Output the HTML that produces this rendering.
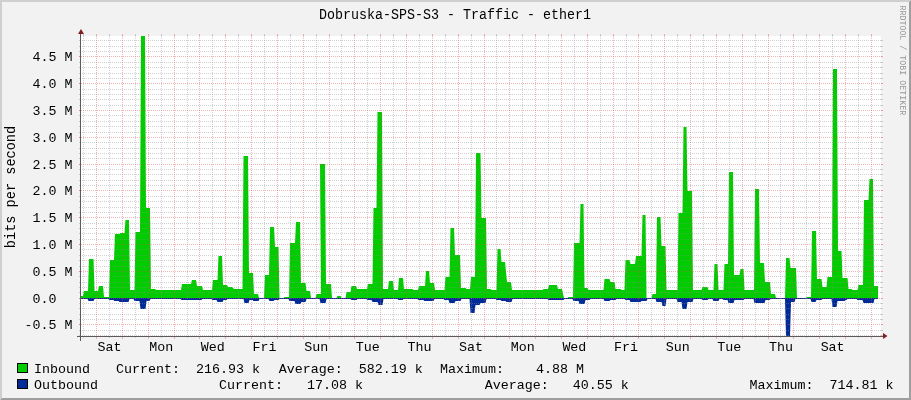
<!DOCTYPE html><html><head><meta charset="utf-8"><style>html,body{margin:0;padding:0;background:#f2f2f2;overflow:hidden}svg{display:block}text{font-family:"Liberation Mono",monospace;}</style></head><body>
<div style="will-change:transform;width:911px;height:400px">
<svg width="911" height="400" viewBox="0 0 911 400">
<rect x="0" y="0" width="911" height="400" fill="#f2f2f2"/>
<polygon points="0,0 911,0 909,2 2,2 2,398 0,400" fill="#cfcfcf"/>
<polygon points="911,0 911,400 0,400 2,398 909,398 909,2" fill="#9e9e9e"/>
<rect x="81" y="36" width="800" height="300" fill="#ffffff"/>
<polygon points="81.00,298.00 81.00,296.00 83.00,296.00 84.00,291.00 88.00,291.00 89.00,259.00 93.50,259.00 94.50,291.00 98.00,291.00 99.00,286.00 103.00,286.00 104.00,297.00 109.00,297.00 110.00,260.00 114.00,260.00 115.00,234.00 119.50,234.00 120.50,233.00 124.50,233.00 125.50,220.00 129.00,220.00 130.00,290.00 134.50,290.00 135.50,232.00 140.00,232.00 141.00,36.00 145.00,36.00 146.00,208.00 150.00,208.00 151.00,289.00 155.00,289.00 156.00,290.00 181.00,290.00 182.00,284.00 191.00,284.00 192.00,280.00 196.00,280.00 197.00,286.00 202.00,286.00 203.00,290.00 212.00,290.00 213.00,280.00 217.50,280.00 218.50,256.00 222.00,256.00 223.00,285.00 227.00,285.00 228.00,287.00 232.00,287.00 234.00,289.00 242.50,289.00 243.50,156.00 248.00,156.00 249.00,273.00 253.00,273.00 254.00,294.00 258.00,294.00 259.00,298.00 264.00,298.00 265.00,275.00 269.00,275.00 270.00,227.00 274.00,227.00 275.00,247.00 278.50,247.00 279.50,298.00 283.50,298.00 284.50,297.00 289.00,297.00 290.00,243.00 295.00,243.00 296.00,222.00 300.00,222.00 301.00,283.00 305.50,283.00 306.50,291.00 310.00,291.00 311.00,298.00 315.50,298.00 316.50,294.00 321.00,294.00 320.00,164.00 325.00,164.00 326.00,284.00 331.00,284.00 332.00,298.00 336.50,298.00 337.50,296.00 340.50,296.00 341.50,298.00 345.50,298.00 346.50,292.00 350.50,292.00 351.50,286.00 356.00,286.00 357.00,289.00 367.00,289.00 368.00,284.00 372.50,284.00 373.50,208.00 376.50,208.00 377.50,112.00 382.00,112.00 383.00,289.00 388.00,289.00 389.00,281.00 393.00,281.00 394.00,290.00 398.00,290.00 399.00,278.00 403.00,278.00 404.00,289.00 412.50,289.00 413.50,290.00 418.00,290.00 419.00,286.00 425.00,286.00 426.00,271.00 429.00,271.00 430.00,283.00 434.00,283.00 435.00,290.00 444.50,290.00 445.50,277.00 449.50,277.00 450.50,228.00 454.00,228.00 455.00,255.00 460.00,255.00 461.00,288.00 465.50,288.00 466.50,289.00 470.00,289.00 471.00,277.00 475.00,277.00 476.00,153.00 480.50,153.00 481.50,218.00 486.00,218.00 487.00,289.00 490.50,289.00 491.50,290.00 496.50,290.00 497.50,249.00 500.50,249.00 501.50,262.00 505.00,262.00 507.00,282.00 511.00,282.00 512.00,290.00 530.00,290.00 530.00,290.00 542.50,290.00 543.50,289.00 548.00,289.00 549.00,285.00 557.00,285.00 558.00,289.00 562.00,289.00 564.00,298.00 567.50,298.00 568.50,297.00 573.00,297.00 574.00,243.00 579.50,243.00 580.50,204.00 583.50,204.00 584.50,288.00 587.50,288.00 588.50,290.00 603.50,290.00 604.50,279.00 609.50,279.00 610.50,282.00 614.50,282.00 615.50,289.00 620.50,289.00 621.50,290.00 624.50,290.00 625.50,260.00 629.50,260.00 630.50,264.00 635.00,264.00 636.00,256.00 641.50,256.00 642.50,215.00 645.50,215.00 646.50,298.00 651.50,298.00 652.50,294.00 656.00,294.00 657.00,217.00 660.50,217.00 661.50,246.00 665.50,246.00 666.50,290.00 677.50,290.00 678.50,213.00 682.50,213.00 683.50,127.00 686.50,127.00 687.50,191.00 692.00,191.00 693.00,290.00 701.50,290.00 702.50,287.00 707.50,287.00 708.50,290.00 713.50,290.00 714.50,264.00 717.50,264.00 718.50,290.00 723.50,290.00 724.50,264.00 728.00,264.00 729.00,172.00 733.00,172.00 734.00,275.00 739.50,275.00 740.50,269.00 743.50,269.00 744.50,290.00 754.00,290.00 755.00,189.00 759.00,189.00 760.00,263.00 764.00,263.00 765.00,282.00 770.00,282.00 771.00,294.00 775.00,294.00 776.00,298.00 785.00,298.00 786.00,258.00 789.50,258.00 790.50,268.00 796.00,268.00 797.00,298.00 806.00,298.00 807.00,297.00 811.00,297.00 812.00,231.00 816.00,231.00 817.00,279.00 821.50,279.00 822.50,287.00 826.50,287.00 827.50,277.00 832.00,277.00 833.00,69.00 837.00,69.00 838.00,251.00 841.50,251.00 842.50,278.00 847.50,278.00 848.50,289.00 851.50,289.00 852.50,290.00 857.50,290.00 858.50,285.00 863.00,285.00 864.00,200.00 868.50,200.00 869.50,179.00 873.00,179.00 874.00,286.00 878.00,286.00 878.00,298.00" fill="#00cc00"/>
<polygon points="81.00,298.00 81.00,299.00 87.50,299.00 88.50,301.00 93.50,301.00 94.50,299.00 108.50,299.00 109.50,300.00 113.50,300.00 114.50,301.00 118.50,301.00 119.50,302.00 128.50,302.00 129.50,299.00 133.50,299.00 134.50,301.00 139.50,301.00 140.50,309.00 145.50,309.00 146.50,301.00 149.50,301.00 150.50,299.00 180.50,299.00 181.50,300.00 201.50,300.00 202.50,299.00 211.50,299.00 212.50,300.00 216.50,300.00 217.50,302.00 222.50,302.00 223.50,300.00 226.50,300.00 227.50,299.00 243.50,299.00 244.50,303.00 248.50,303.00 249.50,300.00 252.50,300.00 253.50,301.00 258.50,301.00 259.50,299.00 268.50,299.00 269.50,301.00 273.50,301.00 274.50,300.00 278.50,300.00 279.50,299.00 288.50,299.00 289.50,301.00 294.50,301.00 295.50,304.00 300.50,304.00 301.50,302.00 305.50,302.00 306.50,299.00 319.50,299.00 320.50,303.00 325.50,303.00 326.50,299.00 350.50,299.00 351.50,300.00 356.50,300.00 357.50,299.00 366.50,299.00 367.50,300.00 371.50,300.00 372.50,302.00 377.50,302.00 378.50,305.00 382.50,305.00 383.50,299.00 397.50,299.00 398.50,300.00 402.50,300.00 403.50,299.00 417.50,299.00 418.50,300.00 423.50,300.00 424.50,301.00 433.50,301.00 434.50,299.00 443.50,299.00 444.50,300.00 448.50,300.00 449.50,303.00 454.50,303.00 455.50,301.00 460.50,301.00 461.50,299.00 469.50,299.00 470.50,313.00 474.50,313.00 475.50,305.00 479.50,305.00 480.50,303.00 485.50,303.00 486.50,299.00 495.50,299.00 496.50,300.00 500.50,300.00 501.50,301.00 505.50,301.00 506.50,302.00 511.50,302.00 512.50,299.00 547.50,299.00 548.50,300.00 563.50,300.00 564.50,299.00 572.50,299.00 573.50,301.00 578.50,301.00 579.50,304.00 584.50,304.00 585.50,300.00 589.50,300.00 590.50,299.00 603.50,299.00 604.50,301.00 609.50,301.00 610.50,300.00 615.50,300.00 616.50,299.00 624.50,299.00 625.50,300.00 629.50,300.00 630.50,302.00 640.50,302.00 641.50,301.00 646.50,301.00 647.50,299.00 655.50,299.00 656.50,302.00 661.50,302.00 662.50,306.00 665.50,306.00 666.50,299.00 676.50,299.00 677.50,302.00 681.50,302.00 682.50,309.00 686.50,309.00 687.50,302.00 692.50,302.00 693.50,299.00 701.50,299.00 702.50,300.00 707.50,300.00 708.50,299.00 712.50,299.00 713.50,301.00 718.50,301.00 719.50,299.00 722.50,299.00 723.50,300.00 727.50,300.00 728.50,303.00 733.50,303.00 734.50,300.00 743.50,300.00 744.50,299.00 753.50,299.00 754.50,303.00 764.50,303.00 765.50,300.00 769.50,300.00 770.50,299.00 785.00,299.00 785.00,299.00 785.00,299.00 786.00,336.00 790.00,336.00 791.00,302.00 794.50,302.00 795.50,299.00 810.50,299.00 811.50,302.00 815.50,302.00 816.50,300.00 821.50,300.00 822.50,299.00 831.50,299.00 832.50,307.00 836.50,307.00 837.50,301.00 844.50,301.00 845.50,300.00 846.50,300.00 847.50,299.00 856.50,299.00 857.50,300.00 862.50,300.00 863.50,303.00 873.50,303.00 874.50,299.00 878.00,299.00 878.00,298.00" fill="#002a97"/>
<g shape-rendering="crispEdges" fill="none" stroke-width="1"><path d="M80 335.5H882" stroke="rgba(143,143,143,0.42)" stroke-dasharray="1 1"/><rect x="79" y="335" width="1" height="1" fill="rgba(143,143,143,0.42)"/><rect x="881" y="335" width="2" height="1" fill="rgba(143,143,143,0.42)"/><path d="M80 330.5H882" stroke="rgba(143,143,143,0.42)" stroke-dasharray="1 1"/><rect x="79" y="330" width="1" height="1" fill="rgba(143,143,143,0.42)"/><rect x="881" y="330" width="2" height="1" fill="rgba(143,143,143,0.42)"/><path d="M79 324.5H883" stroke="rgba(222,79,79,0.42)" stroke-dasharray="1 1"/><rect x="79" y="324" width="1" height="1" fill="rgba(222,79,79,0.42)"/><rect x="881" y="324" width="2" height="1" fill="rgba(222,79,79,0.42)"/><path d="M80 319.5H882" stroke="rgba(143,143,143,0.42)" stroke-dasharray="1 1"/><rect x="79" y="319" width="1" height="1" fill="rgba(143,143,143,0.42)"/><rect x="881" y="319" width="2" height="1" fill="rgba(143,143,143,0.42)"/><path d="M80 314.5H882" stroke="rgba(143,143,143,0.42)" stroke-dasharray="1 1"/><rect x="79" y="314" width="1" height="1" fill="rgba(143,143,143,0.42)"/><rect x="881" y="314" width="2" height="1" fill="rgba(143,143,143,0.42)"/><path d="M80 308.5H882" stroke="rgba(143,143,143,0.42)" stroke-dasharray="1 1"/><rect x="79" y="308" width="1" height="1" fill="rgba(143,143,143,0.42)"/><rect x="881" y="308" width="2" height="1" fill="rgba(143,143,143,0.42)"/><path d="M80 303.5H882" stroke="rgba(143,143,143,0.42)" stroke-dasharray="1 1"/><rect x="79" y="303" width="1" height="1" fill="rgba(143,143,143,0.42)"/><rect x="881" y="303" width="2" height="1" fill="rgba(143,143,143,0.42)"/><path d="M79 298.5H883" stroke="rgba(222,79,79,0.42)" stroke-dasharray="1 1"/><rect x="79" y="298" width="1" height="1" fill="rgba(222,79,79,0.42)"/><rect x="881" y="298" width="2" height="1" fill="rgba(222,79,79,0.42)"/><path d="M80 292.5H882" stroke="rgba(143,143,143,0.42)" stroke-dasharray="1 1"/><rect x="79" y="292" width="1" height="1" fill="rgba(143,143,143,0.42)"/><rect x="881" y="292" width="2" height="1" fill="rgba(143,143,143,0.42)"/><path d="M80 287.5H882" stroke="rgba(143,143,143,0.42)" stroke-dasharray="1 1"/><rect x="79" y="287" width="1" height="1" fill="rgba(143,143,143,0.42)"/><rect x="881" y="287" width="2" height="1" fill="rgba(143,143,143,0.42)"/><path d="M80 282.5H882" stroke="rgba(143,143,143,0.42)" stroke-dasharray="1 1"/><rect x="79" y="282" width="1" height="1" fill="rgba(143,143,143,0.42)"/><rect x="881" y="282" width="2" height="1" fill="rgba(143,143,143,0.42)"/><path d="M80 276.5H882" stroke="rgba(143,143,143,0.42)" stroke-dasharray="1 1"/><rect x="79" y="276" width="1" height="1" fill="rgba(143,143,143,0.42)"/><rect x="881" y="276" width="2" height="1" fill="rgba(143,143,143,0.42)"/><path d="M79 271.5H883" stroke="rgba(222,79,79,0.42)" stroke-dasharray="1 1"/><rect x="79" y="271" width="1" height="1" fill="rgba(222,79,79,0.42)"/><rect x="881" y="271" width="2" height="1" fill="rgba(222,79,79,0.42)"/><path d="M80 266.5H882" stroke="rgba(143,143,143,0.42)" stroke-dasharray="1 1"/><rect x="79" y="266" width="1" height="1" fill="rgba(143,143,143,0.42)"/><rect x="881" y="266" width="2" height="1" fill="rgba(143,143,143,0.42)"/><path d="M80 260.5H882" stroke="rgba(143,143,143,0.42)" stroke-dasharray="1 1"/><rect x="79" y="260" width="1" height="1" fill="rgba(143,143,143,0.42)"/><rect x="881" y="260" width="2" height="1" fill="rgba(143,143,143,0.42)"/><path d="M80 255.5H882" stroke="rgba(143,143,143,0.42)" stroke-dasharray="1 1"/><rect x="79" y="255" width="1" height="1" fill="rgba(143,143,143,0.42)"/><rect x="881" y="255" width="2" height="1" fill="rgba(143,143,143,0.42)"/><path d="M80 249.5H882" stroke="rgba(143,143,143,0.42)" stroke-dasharray="1 1"/><rect x="79" y="249" width="1" height="1" fill="rgba(143,143,143,0.42)"/><rect x="881" y="249" width="2" height="1" fill="rgba(143,143,143,0.42)"/><path d="M79 244.5H883" stroke="rgba(222,79,79,0.42)" stroke-dasharray="1 1"/><rect x="79" y="244" width="1" height="1" fill="rgba(222,79,79,0.42)"/><rect x="881" y="244" width="2" height="1" fill="rgba(222,79,79,0.42)"/><path d="M80 239.5H882" stroke="rgba(143,143,143,0.42)" stroke-dasharray="1 1"/><rect x="79" y="239" width="1" height="1" fill="rgba(143,143,143,0.42)"/><rect x="881" y="239" width="2" height="1" fill="rgba(143,143,143,0.42)"/><path d="M80 233.5H882" stroke="rgba(143,143,143,0.42)" stroke-dasharray="1 1"/><rect x="79" y="233" width="1" height="1" fill="rgba(143,143,143,0.42)"/><rect x="881" y="233" width="2" height="1" fill="rgba(143,143,143,0.42)"/><path d="M80 228.5H882" stroke="rgba(143,143,143,0.42)" stroke-dasharray="1 1"/><rect x="79" y="228" width="1" height="1" fill="rgba(143,143,143,0.42)"/><rect x="881" y="228" width="2" height="1" fill="rgba(143,143,143,0.42)"/><path d="M80 223.5H882" stroke="rgba(143,143,143,0.42)" stroke-dasharray="1 1"/><rect x="79" y="223" width="1" height="1" fill="rgba(143,143,143,0.42)"/><rect x="881" y="223" width="2" height="1" fill="rgba(143,143,143,0.42)"/><path d="M79 217.5H883" stroke="rgba(222,79,79,0.42)" stroke-dasharray="1 1"/><rect x="79" y="217" width="1" height="1" fill="rgba(222,79,79,0.42)"/><rect x="881" y="217" width="2" height="1" fill="rgba(222,79,79,0.42)"/><path d="M80 212.5H882" stroke="rgba(143,143,143,0.42)" stroke-dasharray="1 1"/><rect x="79" y="212" width="1" height="1" fill="rgba(143,143,143,0.42)"/><rect x="881" y="212" width="2" height="1" fill="rgba(143,143,143,0.42)"/><path d="M80 207.5H882" stroke="rgba(143,143,143,0.42)" stroke-dasharray="1 1"/><rect x="79" y="207" width="1" height="1" fill="rgba(143,143,143,0.42)"/><rect x="881" y="207" width="2" height="1" fill="rgba(143,143,143,0.42)"/><path d="M80 201.5H882" stroke="rgba(143,143,143,0.42)" stroke-dasharray="1 1"/><rect x="79" y="201" width="1" height="1" fill="rgba(143,143,143,0.42)"/><rect x="881" y="201" width="2" height="1" fill="rgba(143,143,143,0.42)"/><path d="M80 196.5H882" stroke="rgba(143,143,143,0.42)" stroke-dasharray="1 1"/><rect x="79" y="196" width="1" height="1" fill="rgba(143,143,143,0.42)"/><rect x="881" y="196" width="2" height="1" fill="rgba(143,143,143,0.42)"/><path d="M79 190.5H883" stroke="rgba(222,79,79,0.42)" stroke-dasharray="1 1"/><rect x="79" y="190" width="1" height="1" fill="rgba(222,79,79,0.42)"/><rect x="881" y="190" width="2" height="1" fill="rgba(222,79,79,0.42)"/><path d="M80 185.5H882" stroke="rgba(143,143,143,0.42)" stroke-dasharray="1 1"/><rect x="79" y="185" width="1" height="1" fill="rgba(143,143,143,0.42)"/><rect x="881" y="185" width="2" height="1" fill="rgba(143,143,143,0.42)"/><path d="M80 180.5H882" stroke="rgba(143,143,143,0.42)" stroke-dasharray="1 1"/><rect x="79" y="180" width="1" height="1" fill="rgba(143,143,143,0.42)"/><rect x="881" y="180" width="2" height="1" fill="rgba(143,143,143,0.42)"/><path d="M80 174.5H882" stroke="rgba(143,143,143,0.42)" stroke-dasharray="1 1"/><rect x="79" y="174" width="1" height="1" fill="rgba(143,143,143,0.42)"/><rect x="881" y="174" width="2" height="1" fill="rgba(143,143,143,0.42)"/><path d="M80 169.5H882" stroke="rgba(143,143,143,0.42)" stroke-dasharray="1 1"/><rect x="79" y="169" width="1" height="1" fill="rgba(143,143,143,0.42)"/><rect x="881" y="169" width="2" height="1" fill="rgba(143,143,143,0.42)"/><path d="M79 164.5H883" stroke="rgba(222,79,79,0.42)" stroke-dasharray="1 1"/><rect x="79" y="164" width="1" height="1" fill="rgba(222,79,79,0.42)"/><rect x="881" y="164" width="2" height="1" fill="rgba(222,79,79,0.42)"/><path d="M80 158.5H882" stroke="rgba(143,143,143,0.42)" stroke-dasharray="1 1"/><rect x="79" y="158" width="1" height="1" fill="rgba(143,143,143,0.42)"/><rect x="881" y="158" width="2" height="1" fill="rgba(143,143,143,0.42)"/><path d="M80 153.5H882" stroke="rgba(143,143,143,0.42)" stroke-dasharray="1 1"/><rect x="79" y="153" width="1" height="1" fill="rgba(143,143,143,0.42)"/><rect x="881" y="153" width="2" height="1" fill="rgba(143,143,143,0.42)"/><path d="M80 148.5H882" stroke="rgba(143,143,143,0.42)" stroke-dasharray="1 1"/><rect x="79" y="148" width="1" height="1" fill="rgba(143,143,143,0.42)"/><rect x="881" y="148" width="2" height="1" fill="rgba(143,143,143,0.42)"/><path d="M80 142.5H882" stroke="rgba(143,143,143,0.42)" stroke-dasharray="1 1"/><rect x="79" y="142" width="1" height="1" fill="rgba(143,143,143,0.42)"/><rect x="881" y="142" width="2" height="1" fill="rgba(143,143,143,0.42)"/><path d="M79 137.5H883" stroke="rgba(222,79,79,0.42)" stroke-dasharray="1 1"/><rect x="79" y="137" width="1" height="1" fill="rgba(222,79,79,0.42)"/><rect x="881" y="137" width="2" height="1" fill="rgba(222,79,79,0.42)"/><path d="M80 132.5H882" stroke="rgba(143,143,143,0.42)" stroke-dasharray="1 1"/><rect x="79" y="132" width="1" height="1" fill="rgba(143,143,143,0.42)"/><rect x="881" y="132" width="2" height="1" fill="rgba(143,143,143,0.42)"/><path d="M80 126.5H882" stroke="rgba(143,143,143,0.42)" stroke-dasharray="1 1"/><rect x="79" y="126" width="1" height="1" fill="rgba(143,143,143,0.42)"/><rect x="881" y="126" width="2" height="1" fill="rgba(143,143,143,0.42)"/><path d="M80 121.5H882" stroke="rgba(143,143,143,0.42)" stroke-dasharray="1 1"/><rect x="79" y="121" width="1" height="1" fill="rgba(143,143,143,0.42)"/><rect x="881" y="121" width="2" height="1" fill="rgba(143,143,143,0.42)"/><path d="M80 115.5H882" stroke="rgba(143,143,143,0.42)" stroke-dasharray="1 1"/><rect x="79" y="115" width="1" height="1" fill="rgba(143,143,143,0.42)"/><rect x="881" y="115" width="2" height="1" fill="rgba(143,143,143,0.42)"/><path d="M79 110.5H883" stroke="rgba(222,79,79,0.42)" stroke-dasharray="1 1"/><rect x="79" y="110" width="1" height="1" fill="rgba(222,79,79,0.42)"/><rect x="881" y="110" width="2" height="1" fill="rgba(222,79,79,0.42)"/><path d="M80 105.5H882" stroke="rgba(143,143,143,0.42)" stroke-dasharray="1 1"/><rect x="79" y="105" width="1" height="1" fill="rgba(143,143,143,0.42)"/><rect x="881" y="105" width="2" height="1" fill="rgba(143,143,143,0.42)"/><path d="M80 99.5H882" stroke="rgba(143,143,143,0.42)" stroke-dasharray="1 1"/><rect x="79" y="99" width="1" height="1" fill="rgba(143,143,143,0.42)"/><rect x="881" y="99" width="2" height="1" fill="rgba(143,143,143,0.42)"/><path d="M80 94.5H882" stroke="rgba(143,143,143,0.42)" stroke-dasharray="1 1"/><rect x="79" y="94" width="1" height="1" fill="rgba(143,143,143,0.42)"/><rect x="881" y="94" width="2" height="1" fill="rgba(143,143,143,0.42)"/><path d="M80 89.5H882" stroke="rgba(143,143,143,0.42)" stroke-dasharray="1 1"/><rect x="79" y="89" width="1" height="1" fill="rgba(143,143,143,0.42)"/><rect x="881" y="89" width="2" height="1" fill="rgba(143,143,143,0.42)"/><path d="M79 83.5H883" stroke="rgba(222,79,79,0.42)" stroke-dasharray="1 1"/><rect x="79" y="83" width="1" height="1" fill="rgba(222,79,79,0.42)"/><rect x="881" y="83" width="2" height="1" fill="rgba(222,79,79,0.42)"/><path d="M80 78.5H882" stroke="rgba(143,143,143,0.42)" stroke-dasharray="1 1"/><rect x="79" y="78" width="1" height="1" fill="rgba(143,143,143,0.42)"/><rect x="881" y="78" width="2" height="1" fill="rgba(143,143,143,0.42)"/><path d="M80 73.5H882" stroke="rgba(143,143,143,0.42)" stroke-dasharray="1 1"/><rect x="79" y="73" width="1" height="1" fill="rgba(143,143,143,0.42)"/><rect x="881" y="73" width="2" height="1" fill="rgba(143,143,143,0.42)"/><path d="M80 67.5H882" stroke="rgba(143,143,143,0.42)" stroke-dasharray="1 1"/><rect x="79" y="67" width="1" height="1" fill="rgba(143,143,143,0.42)"/><rect x="881" y="67" width="2" height="1" fill="rgba(143,143,143,0.42)"/><path d="M80 62.5H882" stroke="rgba(143,143,143,0.42)" stroke-dasharray="1 1"/><rect x="79" y="62" width="1" height="1" fill="rgba(143,143,143,0.42)"/><rect x="881" y="62" width="2" height="1" fill="rgba(143,143,143,0.42)"/><path d="M79 56.5H883" stroke="rgba(222,79,79,0.42)" stroke-dasharray="1 1"/><rect x="79" y="56" width="1" height="1" fill="rgba(222,79,79,0.42)"/><rect x="881" y="56" width="2" height="1" fill="rgba(222,79,79,0.42)"/><path d="M80 51.5H882" stroke="rgba(143,143,143,0.42)" stroke-dasharray="1 1"/><rect x="79" y="51" width="1" height="1" fill="rgba(143,143,143,0.42)"/><rect x="881" y="51" width="2" height="1" fill="rgba(143,143,143,0.42)"/><path d="M80 46.5H882" stroke="rgba(143,143,143,0.42)" stroke-dasharray="1 1"/><rect x="79" y="46" width="1" height="1" fill="rgba(143,143,143,0.42)"/><rect x="881" y="46" width="2" height="1" fill="rgba(143,143,143,0.42)"/><path d="M80 40.5H882" stroke="rgba(143,143,143,0.42)" stroke-dasharray="1 1"/><rect x="79" y="40" width="1" height="1" fill="rgba(143,143,143,0.42)"/><rect x="881" y="40" width="2" height="1" fill="rgba(143,143,143,0.42)"/><path d="M83.5 36V336" stroke="rgba(143,143,143,0.42)" stroke-dasharray="1 1"/><rect x="83" y="34" width="1" height="2" fill="rgba(143,143,143,0.42)"/><rect x="83" y="337" width="1" height="1" fill="rgba(143,143,143,0.42)"/><path d="M96.5 36V336" stroke="rgba(222,79,79,0.42)" stroke-dasharray="1 1"/><rect x="96" y="34" width="1" height="2" fill="rgba(222,79,79,0.42)"/><rect x="96" y="337" width="1" height="2" fill="rgba(222,79,79,0.42)"/><path d="M109.5 36V336" stroke="rgba(143,143,143,0.42)" stroke-dasharray="1 1"/><rect x="109" y="34" width="1" height="2" fill="rgba(143,143,143,0.42)"/><rect x="109" y="337" width="1" height="1" fill="rgba(143,143,143,0.42)"/><path d="M122.5 36V336" stroke="rgba(222,79,79,0.42)" stroke-dasharray="1 1"/><rect x="122" y="34" width="1" height="2" fill="rgba(222,79,79,0.42)"/><rect x="122" y="337" width="1" height="2" fill="rgba(222,79,79,0.42)"/><path d="M135.5 36V336" stroke="rgba(143,143,143,0.42)" stroke-dasharray="1 1"/><rect x="135" y="34" width="1" height="2" fill="rgba(143,143,143,0.42)"/><rect x="135" y="337" width="1" height="1" fill="rgba(143,143,143,0.42)"/><path d="M148.5 36V336" stroke="rgba(222,79,79,0.42)" stroke-dasharray="1 1"/><rect x="148" y="34" width="1" height="2" fill="rgba(222,79,79,0.42)"/><rect x="148" y="337" width="1" height="2" fill="rgba(222,79,79,0.42)"/><path d="M161.5 36V336" stroke="rgba(143,143,143,0.42)" stroke-dasharray="1 1"/><rect x="161" y="34" width="1" height="2" fill="rgba(143,143,143,0.42)"/><rect x="161" y="337" width="1" height="1" fill="rgba(143,143,143,0.42)"/><path d="M174.5 36V336" stroke="rgba(222,79,79,0.42)" stroke-dasharray="1 1"/><rect x="174" y="34" width="1" height="2" fill="rgba(222,79,79,0.42)"/><rect x="174" y="337" width="1" height="2" fill="rgba(222,79,79,0.42)"/><path d="M187.5 36V336" stroke="rgba(143,143,143,0.42)" stroke-dasharray="1 1"/><rect x="187" y="34" width="1" height="2" fill="rgba(143,143,143,0.42)"/><rect x="187" y="337" width="1" height="1" fill="rgba(143,143,143,0.42)"/><path d="M199.5 36V336" stroke="rgba(222,79,79,0.42)" stroke-dasharray="1 1"/><rect x="199" y="34" width="1" height="2" fill="rgba(222,79,79,0.42)"/><rect x="199" y="337" width="1" height="2" fill="rgba(222,79,79,0.42)"/><path d="M212.5 36V336" stroke="rgba(143,143,143,0.42)" stroke-dasharray="1 1"/><rect x="212" y="34" width="1" height="2" fill="rgba(143,143,143,0.42)"/><rect x="212" y="337" width="1" height="1" fill="rgba(143,143,143,0.42)"/><path d="M225.5 36V336" stroke="rgba(222,79,79,0.42)" stroke-dasharray="1 1"/><rect x="225" y="34" width="1" height="2" fill="rgba(222,79,79,0.42)"/><rect x="225" y="337" width="1" height="2" fill="rgba(222,79,79,0.42)"/><path d="M238.5 36V336" stroke="rgba(143,143,143,0.42)" stroke-dasharray="1 1"/><rect x="238" y="34" width="1" height="2" fill="rgba(143,143,143,0.42)"/><rect x="238" y="337" width="1" height="1" fill="rgba(143,143,143,0.42)"/><path d="M251.5 36V336" stroke="rgba(222,79,79,0.42)" stroke-dasharray="1 1"/><rect x="251" y="34" width="1" height="2" fill="rgba(222,79,79,0.42)"/><rect x="251" y="337" width="1" height="2" fill="rgba(222,79,79,0.42)"/><path d="M264.5 36V336" stroke="rgba(143,143,143,0.42)" stroke-dasharray="1 1"/><rect x="264" y="34" width="1" height="2" fill="rgba(143,143,143,0.42)"/><rect x="264" y="337" width="1" height="1" fill="rgba(143,143,143,0.42)"/><path d="M277.5 36V336" stroke="rgba(222,79,79,0.42)" stroke-dasharray="1 1"/><rect x="277" y="34" width="1" height="2" fill="rgba(222,79,79,0.42)"/><rect x="277" y="337" width="1" height="2" fill="rgba(222,79,79,0.42)"/><path d="M290.5 36V336" stroke="rgba(143,143,143,0.42)" stroke-dasharray="1 1"/><rect x="290" y="34" width="1" height="2" fill="rgba(143,143,143,0.42)"/><rect x="290" y="337" width="1" height="1" fill="rgba(143,143,143,0.42)"/><path d="M303.5 36V336" stroke="rgba(222,79,79,0.42)" stroke-dasharray="1 1"/><rect x="303" y="34" width="1" height="2" fill="rgba(222,79,79,0.42)"/><rect x="303" y="337" width="1" height="2" fill="rgba(222,79,79,0.42)"/><path d="M316.5 36V336" stroke="rgba(143,143,143,0.42)" stroke-dasharray="1 1"/><rect x="316" y="34" width="1" height="2" fill="rgba(143,143,143,0.42)"/><rect x="316" y="337" width="1" height="1" fill="rgba(143,143,143,0.42)"/><path d="M329.5 36V336" stroke="rgba(222,79,79,0.42)" stroke-dasharray="1 1"/><rect x="329" y="34" width="1" height="2" fill="rgba(222,79,79,0.42)"/><rect x="329" y="337" width="1" height="2" fill="rgba(222,79,79,0.42)"/><path d="M341.5 36V336" stroke="rgba(143,143,143,0.42)" stroke-dasharray="1 1"/><rect x="341" y="34" width="1" height="2" fill="rgba(143,143,143,0.42)"/><rect x="341" y="337" width="1" height="1" fill="rgba(143,143,143,0.42)"/><path d="M354.5 36V336" stroke="rgba(222,79,79,0.42)" stroke-dasharray="1 1"/><rect x="354" y="34" width="1" height="2" fill="rgba(222,79,79,0.42)"/><rect x="354" y="337" width="1" height="2" fill="rgba(222,79,79,0.42)"/><path d="M367.5 36V336" stroke="rgba(143,143,143,0.42)" stroke-dasharray="1 1"/><rect x="367" y="34" width="1" height="2" fill="rgba(143,143,143,0.42)"/><rect x="367" y="337" width="1" height="1" fill="rgba(143,143,143,0.42)"/><path d="M380.5 36V336" stroke="rgba(222,79,79,0.42)" stroke-dasharray="1 1"/><rect x="380" y="34" width="1" height="2" fill="rgba(222,79,79,0.42)"/><rect x="380" y="337" width="1" height="2" fill="rgba(222,79,79,0.42)"/><path d="M393.5 36V336" stroke="rgba(143,143,143,0.42)" stroke-dasharray="1 1"/><rect x="393" y="34" width="1" height="2" fill="rgba(143,143,143,0.42)"/><rect x="393" y="337" width="1" height="1" fill="rgba(143,143,143,0.42)"/><path d="M406.5 36V336" stroke="rgba(222,79,79,0.42)" stroke-dasharray="1 1"/><rect x="406" y="34" width="1" height="2" fill="rgba(222,79,79,0.42)"/><rect x="406" y="337" width="1" height="2" fill="rgba(222,79,79,0.42)"/><path d="M419.5 36V336" stroke="rgba(143,143,143,0.42)" stroke-dasharray="1 1"/><rect x="419" y="34" width="1" height="2" fill="rgba(143,143,143,0.42)"/><rect x="419" y="337" width="1" height="1" fill="rgba(143,143,143,0.42)"/><path d="M432.5 36V336" stroke="rgba(222,79,79,0.42)" stroke-dasharray="1 1"/><rect x="432" y="34" width="1" height="2" fill="rgba(222,79,79,0.42)"/><rect x="432" y="337" width="1" height="2" fill="rgba(222,79,79,0.42)"/><path d="M445.5 36V336" stroke="rgba(143,143,143,0.42)" stroke-dasharray="1 1"/><rect x="445" y="34" width="1" height="2" fill="rgba(143,143,143,0.42)"/><rect x="445" y="337" width="1" height="1" fill="rgba(143,143,143,0.42)"/><path d="M458.5 36V336" stroke="rgba(222,79,79,0.42)" stroke-dasharray="1 1"/><rect x="458" y="34" width="1" height="2" fill="rgba(222,79,79,0.42)"/><rect x="458" y="337" width="1" height="2" fill="rgba(222,79,79,0.42)"/><path d="M471.5 36V336" stroke="rgba(143,143,143,0.42)" stroke-dasharray="1 1"/><rect x="471" y="34" width="1" height="2" fill="rgba(143,143,143,0.42)"/><rect x="471" y="337" width="1" height="1" fill="rgba(143,143,143,0.42)"/><path d="M484.5 36V336" stroke="rgba(222,79,79,0.42)" stroke-dasharray="1 1"/><rect x="484" y="34" width="1" height="2" fill="rgba(222,79,79,0.42)"/><rect x="484" y="337" width="1" height="2" fill="rgba(222,79,79,0.42)"/><path d="M496.5 36V336" stroke="rgba(143,143,143,0.42)" stroke-dasharray="1 1"/><rect x="496" y="34" width="1" height="2" fill="rgba(143,143,143,0.42)"/><rect x="496" y="337" width="1" height="1" fill="rgba(143,143,143,0.42)"/><path d="M509.5 36V336" stroke="rgba(222,79,79,0.42)" stroke-dasharray="1 1"/><rect x="509" y="34" width="1" height="2" fill="rgba(222,79,79,0.42)"/><rect x="509" y="337" width="1" height="2" fill="rgba(222,79,79,0.42)"/><path d="M522.5 36V336" stroke="rgba(143,143,143,0.42)" stroke-dasharray="1 1"/><rect x="522" y="34" width="1" height="2" fill="rgba(143,143,143,0.42)"/><rect x="522" y="337" width="1" height="1" fill="rgba(143,143,143,0.42)"/><path d="M535.5 36V336" stroke="rgba(222,79,79,0.42)" stroke-dasharray="1 1"/><rect x="535" y="34" width="1" height="2" fill="rgba(222,79,79,0.42)"/><rect x="535" y="337" width="1" height="2" fill="rgba(222,79,79,0.42)"/><path d="M548.5 36V336" stroke="rgba(143,143,143,0.42)" stroke-dasharray="1 1"/><rect x="548" y="34" width="1" height="2" fill="rgba(143,143,143,0.42)"/><rect x="548" y="337" width="1" height="1" fill="rgba(143,143,143,0.42)"/><path d="M561.5 36V336" stroke="rgba(222,79,79,0.42)" stroke-dasharray="1 1"/><rect x="561" y="34" width="1" height="2" fill="rgba(222,79,79,0.42)"/><rect x="561" y="337" width="1" height="2" fill="rgba(222,79,79,0.42)"/><path d="M574.5 36V336" stroke="rgba(143,143,143,0.42)" stroke-dasharray="1 1"/><rect x="574" y="34" width="1" height="2" fill="rgba(143,143,143,0.42)"/><rect x="574" y="337" width="1" height="1" fill="rgba(143,143,143,0.42)"/><path d="M587.5 36V336" stroke="rgba(222,79,79,0.42)" stroke-dasharray="1 1"/><rect x="587" y="34" width="1" height="2" fill="rgba(222,79,79,0.42)"/><rect x="587" y="337" width="1" height="2" fill="rgba(222,79,79,0.42)"/><path d="M600.5 36V336" stroke="rgba(143,143,143,0.42)" stroke-dasharray="1 1"/><rect x="600" y="34" width="1" height="2" fill="rgba(143,143,143,0.42)"/><rect x="600" y="337" width="1" height="1" fill="rgba(143,143,143,0.42)"/><path d="M613.5 36V336" stroke="rgba(222,79,79,0.42)" stroke-dasharray="1 1"/><rect x="613" y="34" width="1" height="2" fill="rgba(222,79,79,0.42)"/><rect x="613" y="337" width="1" height="2" fill="rgba(222,79,79,0.42)"/><path d="M626.5 36V336" stroke="rgba(143,143,143,0.42)" stroke-dasharray="1 1"/><rect x="626" y="34" width="1" height="2" fill="rgba(143,143,143,0.42)"/><rect x="626" y="337" width="1" height="1" fill="rgba(143,143,143,0.42)"/><path d="M638.5 36V336" stroke="rgba(222,79,79,0.42)" stroke-dasharray="1 1"/><rect x="638" y="34" width="1" height="2" fill="rgba(222,79,79,0.42)"/><rect x="638" y="337" width="1" height="2" fill="rgba(222,79,79,0.42)"/><path d="M651.5 36V336" stroke="rgba(143,143,143,0.42)" stroke-dasharray="1 1"/><rect x="651" y="34" width="1" height="2" fill="rgba(143,143,143,0.42)"/><rect x="651" y="337" width="1" height="1" fill="rgba(143,143,143,0.42)"/><path d="M664.5 36V336" stroke="rgba(222,79,79,0.42)" stroke-dasharray="1 1"/><rect x="664" y="34" width="1" height="2" fill="rgba(222,79,79,0.42)"/><rect x="664" y="337" width="1" height="2" fill="rgba(222,79,79,0.42)"/><path d="M677.5 36V336" stroke="rgba(143,143,143,0.42)" stroke-dasharray="1 1"/><rect x="677" y="34" width="1" height="2" fill="rgba(143,143,143,0.42)"/><rect x="677" y="337" width="1" height="1" fill="rgba(143,143,143,0.42)"/><path d="M690.5 36V336" stroke="rgba(222,79,79,0.42)" stroke-dasharray="1 1"/><rect x="690" y="34" width="1" height="2" fill="rgba(222,79,79,0.42)"/><rect x="690" y="337" width="1" height="2" fill="rgba(222,79,79,0.42)"/><path d="M703.5 36V336" stroke="rgba(143,143,143,0.42)" stroke-dasharray="1 1"/><rect x="703" y="34" width="1" height="2" fill="rgba(143,143,143,0.42)"/><rect x="703" y="337" width="1" height="1" fill="rgba(143,143,143,0.42)"/><path d="M716.5 36V336" stroke="rgba(222,79,79,0.42)" stroke-dasharray="1 1"/><rect x="716" y="34" width="1" height="2" fill="rgba(222,79,79,0.42)"/><rect x="716" y="337" width="1" height="2" fill="rgba(222,79,79,0.42)"/><path d="M729.5 36V336" stroke="rgba(143,143,143,0.42)" stroke-dasharray="1 1"/><rect x="729" y="34" width="1" height="2" fill="rgba(143,143,143,0.42)"/><rect x="729" y="337" width="1" height="1" fill="rgba(143,143,143,0.42)"/><path d="M742.5 36V336" stroke="rgba(222,79,79,0.42)" stroke-dasharray="1 1"/><rect x="742" y="34" width="1" height="2" fill="rgba(222,79,79,0.42)"/><rect x="742" y="337" width="1" height="2" fill="rgba(222,79,79,0.42)"/><path d="M755.5 36V336" stroke="rgba(143,143,143,0.42)" stroke-dasharray="1 1"/><rect x="755" y="34" width="1" height="2" fill="rgba(143,143,143,0.42)"/><rect x="755" y="337" width="1" height="1" fill="rgba(143,143,143,0.42)"/><path d="M768.5 36V336" stroke="rgba(222,79,79,0.42)" stroke-dasharray="1 1"/><rect x="768" y="34" width="1" height="2" fill="rgba(222,79,79,0.42)"/><rect x="768" y="337" width="1" height="2" fill="rgba(222,79,79,0.42)"/><path d="M780.5 36V336" stroke="rgba(143,143,143,0.42)" stroke-dasharray="1 1"/><rect x="780" y="34" width="1" height="2" fill="rgba(143,143,143,0.42)"/><rect x="780" y="337" width="1" height="1" fill="rgba(143,143,143,0.42)"/><path d="M793.5 36V336" stroke="rgba(222,79,79,0.42)" stroke-dasharray="1 1"/><rect x="793" y="34" width="1" height="2" fill="rgba(222,79,79,0.42)"/><rect x="793" y="337" width="1" height="2" fill="rgba(222,79,79,0.42)"/><path d="M806.5 36V336" stroke="rgba(143,143,143,0.42)" stroke-dasharray="1 1"/><rect x="806" y="34" width="1" height="2" fill="rgba(143,143,143,0.42)"/><rect x="806" y="337" width="1" height="1" fill="rgba(143,143,143,0.42)"/><path d="M819.5 36V336" stroke="rgba(222,79,79,0.42)" stroke-dasharray="1 1"/><rect x="819" y="34" width="1" height="2" fill="rgba(222,79,79,0.42)"/><rect x="819" y="337" width="1" height="2" fill="rgba(222,79,79,0.42)"/><path d="M832.5 36V336" stroke="rgba(143,143,143,0.42)" stroke-dasharray="1 1"/><rect x="832" y="34" width="1" height="2" fill="rgba(143,143,143,0.42)"/><rect x="832" y="337" width="1" height="1" fill="rgba(143,143,143,0.42)"/><path d="M845.5 36V336" stroke="rgba(222,79,79,0.42)" stroke-dasharray="1 1"/><rect x="845" y="34" width="1" height="2" fill="rgba(222,79,79,0.42)"/><rect x="845" y="337" width="1" height="2" fill="rgba(222,79,79,0.42)"/><path d="M858.5 36V336" stroke="rgba(143,143,143,0.42)" stroke-dasharray="1 1"/><rect x="858" y="34" width="1" height="2" fill="rgba(143,143,143,0.42)"/><rect x="858" y="337" width="1" height="1" fill="rgba(143,143,143,0.42)"/><path d="M871.5 36V336" stroke="rgba(222,79,79,0.42)" stroke-dasharray="1 1"/><rect x="871" y="34" width="1" height="2" fill="rgba(222,79,79,0.42)"/><rect x="871" y="337" width="1" height="2" fill="rgba(222,79,79,0.42)"/></g>
<g shape-rendering="crispEdges"><rect x="77" y="336" width="808" height="1" fill="#5a5a5a"/><rect x="80" y="32" width="1" height="309" fill="#5a5a5a"/></g>
<polygon points="883,333 883,339 887.5,336" fill="#801f1f"/>
<polygon points="78,34 84,34 81,29" fill="#801f1f"/>
<rect x="17.5" y="363.5" width="10" height="9" fill="#00cc00" stroke="#000" stroke-width="1"/>
<rect x="17.5" y="379.5" width="10" height="9" fill="#002a97" stroke="#000" stroke-width="1"/>
<g fill="#000"><text x="24.5" y="329" font-size="13.33">-0.5 M</text><text x="32.5" y="303" font-size="13.33">0.0</text><text x="32.5" y="276" font-size="13.33">0.5 M</text><text x="32.5" y="249" font-size="13.33">1.0 M</text><text x="32.5" y="222" font-size="13.33">1.5 M</text><text x="32.5" y="195" font-size="13.33">2.0 M</text><text x="32.5" y="169" font-size="13.33">2.5 M</text><text x="32.5" y="142" font-size="13.33">3.0 M</text><text x="32.5" y="115" font-size="13.33">3.5 M</text><text x="32.5" y="88" font-size="13.33">4.0 M</text><text x="32.5" y="61" font-size="13.33">4.5 M</text><text x="109.56" y="351" font-size="13.33" text-anchor="middle">Sat</text><text x="161.21" y="351" font-size="13.33" text-anchor="middle">Mon</text><text x="212.86" y="351" font-size="13.33" text-anchor="middle">Wed</text><text x="264.51" y="351" font-size="13.33" text-anchor="middle">Fri</text><text x="316.15" y="351" font-size="13.33" text-anchor="middle">Sun</text><text x="367.80" y="351" font-size="13.33" text-anchor="middle">Tue</text><text x="419.45" y="351" font-size="13.33" text-anchor="middle">Thu</text><text x="471.10" y="351" font-size="13.33" text-anchor="middle">Sat</text><text x="522.75" y="351" font-size="13.33" text-anchor="middle">Mon</text><text x="574.39" y="351" font-size="13.33" text-anchor="middle">Wed</text><text x="626.04" y="351" font-size="13.33" text-anchor="middle">Fri</text><text x="677.69" y="351" font-size="13.33" text-anchor="middle">Sun</text><text x="729.34" y="351" font-size="13.33" text-anchor="middle">Tue</text><text x="780.99" y="351" font-size="13.33" text-anchor="middle">Thu</text><text x="832.63" y="351" font-size="13.33" text-anchor="middle">Sat</text><text x="319" y="19" font-size="13.33" transform="translate(0,19) scale(1,1.13) translate(0,-19)" >Dobruska-SPS-S3 - Traffic - ether1</text><text x="0" y="0" font-size="13.6" text-anchor="middle" transform="translate(15,187) rotate(-90) scale(1,1.12)">bits per second</text><text x="0" y="0" font-size="8.33" fill="#9a9a9a" transform="translate(899.8,5.4) rotate(90) scale(1,1.1)">RRDTOOL / TOBI OETIKER</text><text x="34" y="373" font-size="13.33" xml:space="preserve">Inbound</text><text x="116" y="373" font-size="13.33" xml:space="preserve">Current:  216.93 k</text><text x="278.8" y="373" font-size="13.33" xml:space="preserve">Average:  582.19 k</text><text x="440" y="373" font-size="13.33" xml:space="preserve">Maximum:    4.88 M</text><text x="34" y="389" font-size="13.33" xml:space="preserve">Outbound</text><text x="219" y="389" font-size="13.33" xml:space="preserve">Current:   17.08 k</text><text x="484.8" y="389" font-size="13.33" xml:space="preserve">Average:   40.55 k</text><text x="749.5" y="389" font-size="13.33" xml:space="preserve">Maximum:  714.81 k</text></g>
</svg></div></body></html>
